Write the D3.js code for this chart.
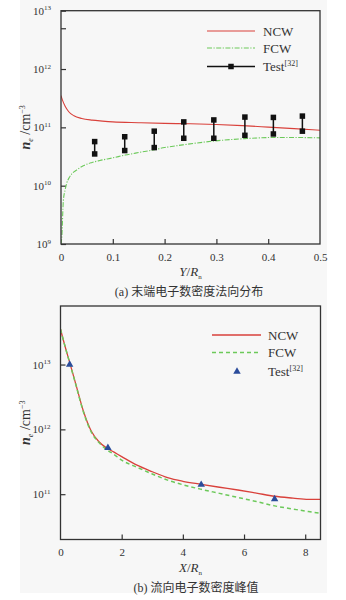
<!DOCTYPE html>
<html><head><meta charset="utf-8">
<script src="https://cdn.jsdelivr.net/npm/d3@7"></script>
<style>
body{margin:0;background:#fff}
svg{display:block}
</style>
</head><body>
<svg id="fig" width="346" height="600"></svg>
<script>
// ---- Panel (a): tail electron number density along the normal ----
const ncwA_Y = [0, 0.003, 0.008, 0.015, 0.025, 0.04, 0.06, 0.08, 0.1, 0.15, 0.2, 0.25, 0.3, 0.35, 0.4, 0.45, 0.5];
const ncwA_N = [3.5e11, 2.9e11, 2.3e11, 1.85e11, 1.58e11, 1.42e11, 1.33e11, 1.28e11, 1.24e11, 1.2e11, 1.17e11, 1.15e11, 1.12e11, 1.07e11, 1.01e11, 9.5e10, 8.9e10];
const fcwA_Y = [0, 0.0015, 0.0045, 0.008, 0.011, 0.016, 0.021, 0.03, 0.043, 0.06, 0.075, 0.1, 0.124, 0.15, 0.178, 0.2, 0.235, 0.293, 0.355, 0.41, 0.45, 0.5];
const fcwA_N = [1e9, 1.3e9, 5.5e9, 8.5e9, 1.1e10, 1.38e10, 1.6e10, 1.85e10, 2.2e10, 2.5e10, 2.7e10, 3.0e10, 3.35e10, 3.7e10, 4.1e10, 4.5e10, 5.0e10, 5.8e10, 6.4e10, 6.7e10, 6.7e10, 6.6e10];
const testA_Y = [0.065, 0.123, 0.18, 0.237, 0.295, 0.355, 0.41, 0.466];
const testA_hi = [5.7e10, 6.9e10, 8.6e10, 1.24e11, 1.34e11, 1.5e11, 1.48e11, 1.56e11];
const testA_lo = [3.5e10, 4.0e10, 4.5e10, 6.5e10, 6.5e10, 7.3e10, 7.7e10, 8.6e10];
const xTicksA = [0, 0.1, 0.2, 0.3, 0.4, 0.5];
const yTicksA = [1e9, 1e10, 1e11, 1e12, 1e13];
const yMinorA = [5e12];

// ---- Panel (b): streamwise peak electron number density ----
const ncwB_X = [0, 0.15, 0.3, 0.5, 0.75, 1.0, 1.25, 1.5, 1.75, 2.0, 2.5, 3.0, 3.5, 4.0, 4.6, 5.2, 5.8, 6.4, 7.0, 7.6, 8.1, 8.5];
const ncwB_N = [3.5e13, 1.9e13, 1.08e13, 5.0e12, 1.9e12, 9.5e11, 6.5e11, 5.2e11, 4.45e11, 3.8e11, 2.8e11, 2.22e11, 1.8e11, 1.58e11, 1.42e11, 1.28e11, 1.16e11, 1.04e11, 9.3e10, 8.7e10, 8.3e10, 8.3e10];
const fcwB_N = [3.5e13, 1.9e13, 1.06e13, 4.9e12, 1.85e12, 9.2e11, 6.3e11, 4.9e11, 4.1e11, 3.35e11, 2.6e11, 2.05e11, 1.65e11, 1.4e11, 1.19e11, 1.03e11, 8.9e10, 7.7e10, 6.6e10, 5.9e10, 5.4e10, 5.1e10];
const testB_X = [0.3, 1.55, 4.6, 7.0];
const testB_N = [1.0e13, 5.2e11, 1.4e11, 8.4e10];
const xTicksB = [0, 2, 4, 6, 8];
const yTicksB = [1e11, 1e12, 1e13];

const seriesNames = ["NCW", "FCW", "Test"];
const RED = "#d9413b", GREEN = "#6cc95a", BLUE = "#2b4c9b", AXIS = "#333";
const SERIF = '"Liberation Serif","Noto Sans CJK SC",serif';

const svg = d3.select("#fig");
svg.append("rect").attr("x", 20).attr("y", 0).attr("width", 307).attr("height", 593).attr("fill", "#f7f7f7");

function powLabel(sel, v) {
  const e = Math.round(Math.log10(v));
  sel.text(null);
  sel.append("tspan").text("10");
  sel.append("tspan").attr("font-size", 7).attr("dy", -4.5).text(e);
}

function panel(cfg) {
  const g = svg.append("g");
  const x = d3.scaleLinear().domain(cfg.xDomain).range([cfg.left, cfg.right]);
  const y = d3.scaleLog().domain(cfg.yDomain).range([cfg.bottom, cfg.top]);
  const id = "clip" + cfg.key;
  svg.append("clipPath").attr("id", id).append("rect")
    .attr("x", cfg.left).attr("y", cfg.top).attr("width", cfg.right - cfg.left).attr("height", cfg.bottom - cfg.top);

  // axes with inward ticks
  const ax = g.append("g").attr("transform", `translate(0,${cfg.bottom})`)
    .call(d3.axisBottom(x).tickValues(cfg.xTicks).tickSize(-5).tickPadding(9).tickFormat(cfg.xFmt));
  const ay = g.append("g").attr("transform", `translate(${cfg.left},0)`)
    .call(d3.axisLeft(y).tickValues(cfg.yTicks.concat(cfg.yMinor || [])).tickSize(-5).tickPadding(10).tickFormat(""));
  ay.selectAll(".tick text").filter(d => cfg.yTicks.includes(d)).each(function(d){ powLabel(d3.select(this), d); });
  [ax, ay].forEach(a => {
    a.attr("font-family", null).attr("font-size", null);
    a.select(".domain").remove();
    a.selectAll(".tick line").attr("stroke", AXIS).attr("stroke-width", 1.2);
    a.selectAll(".tick text").attr("fill", "#333").style("font-family", SERIF).style("font-size", "11px");
  });
  ax.selectAll(".tick").filter(d => d === cfg.xDomain[0] || d === cfg.xDomain[1]).select("line").remove();

  const plot = g.append("g").attr("clip-path", `url(#${id})`);
  cfg.draw(plot, x, y);

  g.append("rect").attr("x", cfg.left).attr("y", cfg.top)
    .attr("width", cfg.right - cfg.left).attr("height", cfg.bottom - cfg.top)
    .attr("fill", "none").attr("stroke", AXIS).attr("stroke-width", 1.3);

  // y title: n_e /cm^-3
  const cy = (cfg.top + cfg.bottom) / 2;
  const yt = g.append("text").attr("transform", `translate(30,${cy}) rotate(-90)`)
    .attr("text-anchor", "middle").style("font-family", SERIF).style("font-size", "14px").attr("fill", "#333");
  yt.append("tspan").attr("font-style", "italic").attr("font-weight", "bold").text("n");
  yt.append("tspan").attr("font-size", 8).attr("font-style", "italic").attr("dy", 3).text("e");
  yt.append("tspan").attr("dy", -3).text(" /cm");
  yt.append("tspan").attr("font-size", 8).attr("dy", -5).text("\u22123");

  // x title
  const xt = g.append("text").attr("x", (cfg.left + cfg.right) / 2).attr("y", cfg.bottom + 32)
    .attr("text-anchor", "middle").style("font-family", SERIF).style("font-size", "13px").attr("fill", "#333");
  xt.append("tspan").attr("font-style", "italic").text(cfg.xVar);
  xt.append("tspan").text("/");
  xt.append("tspan").attr("font-style", "italic").text("R");
  xt.append("tspan").attr("font-size", 7).attr("dy", 3).text("n");

  g.append("text").attr("x", cfg.capX).attr("y", cfg.bottom + 52).attr("text-anchor", "middle")
    .style("font-family", SERIF).style("font-size", "12px").attr("fill", "#333").text(cfg.caption);
  return { x, y, g };
}

function legendText(g, x, y, name) {
  const t = g.append("text").attr("x", x).attr("y", y + 4.5)
    .style("font-family", SERIF).style("font-size", "13px").attr("fill", "#333");
  t.append("tspan").text(name);
  if (name === "Test") t.append("tspan").attr("font-size", 8).attr("dy", -5).text("[32]");
}

// Panel (a)
const A = panel({
  key: "a", left: 61, right: 320, top: 10.7, bottom: 244,
  xDomain: [0, 0.5], yDomain: [1e9, 1e13],
  xTicks: xTicksA, yTicks: yTicksA, yMinor: yMinorA,
  xFmt: d => d === 0 ? "0" : d3.format(".1f")(d),
  xVar: "Y", caption: "(a) 末端电子数密度法向分布", capX: 189,
  draw(p, x, y) {
    const ln = (xs, ys) => d3.line().x((d, i) => x(xs[i])).y(d => y(d)).curve(d3.curveMonotoneX)(ys);
    p.append("path").attr("d", ln(ncwA_Y, ncwA_N)).attr("fill", "none").attr("stroke", RED).attr("stroke-width", 1.1);
    p.append("path").attr("d", ln(fcwA_Y, fcwA_N)).attr("fill", "none").attr("stroke", GREEN).attr("stroke-width", 1.1)
      .attr("stroke-dasharray", "5,1.5,1.2,1.5");
    const t = p.append("g");
    t.selectAll("line").data(testA_Y).join("line")
      .attr("x1", d => x(d)).attr("x2", d => x(d))
      .attr("y1", (d, i) => y(testA_hi[i])).attr("y2", (d, i) => y(testA_lo[i]))
      .attr("stroke", "#111").attr("stroke-width", 1.5);
    const pts = testA_Y.flatMap((d, i) => [[d, testA_hi[i]], [d, testA_lo[i]]]);
    t.selectAll("rect").data(pts).join("rect")
      .attr("x", d => x(d[0]) - 2.75).attr("y", d => y(d[1]) - 2.75)
      .attr("width", 5.5).attr("height", 5.5).attr("fill", "#111");
  }
});
{
  const lg = A.g.append("g");
  const ys = [31, 48, 66.5];
  lg.append("line").attr("x1", 207).attr("x2", 255).attr("y1", ys[0]).attr("y2", ys[0]).attr("stroke", RED).attr("stroke-width", 1.1);
  lg.append("line").attr("x1", 207).attr("x2", 255).attr("y1", ys[1]).attr("y2", ys[1]).attr("stroke", GREEN).attr("stroke-width", 1.1).attr("stroke-dasharray", "5,1.5,1.2,1.5");
  lg.append("line").attr("x1", 207).attr("x2", 255).attr("y1", ys[2]).attr("y2", ys[2]).attr("stroke", "#111").attr("stroke-width", 1.3);
  lg.append("rect").attr("x", 231 - 2.75).attr("y", ys[2] - 2.75).attr("width", 5.5).attr("height", 5.5).attr("fill", "#111");
  seriesNames.forEach((n, i) => legendText(lg, 263, ys[i], n));
}

// Panel (b)
const B = panel({
  key: "b", left: 60.5, right: 320.5, top: 306, bottom: 539.5,
  xDomain: [0, 8.5], yDomain: [2e10, 8e13],
  xTicks: xTicksB, yTicks: yTicksB,
  xFmt: d3.format("d"),
  xVar: "X", caption: "(b) 流向电子数密度峰值", capX: 196,
  draw(p, x, y) {
    const ln = ys => d3.line().x((d, i) => x(ncwB_X[i])).y(d => y(d)).curve(d3.curveMonotoneX)(ys);
    p.append("path").attr("d", ln(ncwB_N)).attr("fill", "none").attr("stroke", RED).attr("stroke-width", 1.3);
    p.append("path").attr("d", ln(fcwB_N)).attr("fill", "none").attr("stroke", GREEN).attr("stroke-width", 1.5)
      .attr("stroke-dasharray", "4,3");
    p.selectAll("path.tri").data(testB_X).join("path").attr("class", "tri")
      .attr("d", d3.symbol(d3.symbolTriangle, 24))
      .attr("transform", (d, i) => `translate(${x(d)},${y(testB_N[i])})`)
      .attr("fill", BLUE);
  }
});
{
  const lg = B.g.append("g");
  const ys = [335, 352.5, 371.5];
  lg.append("line").attr("x1", 212).attr("x2", 261).attr("y1", ys[0]).attr("y2", ys[0]).attr("stroke", RED).attr("stroke-width", 1.3);
  lg.append("line").attr("x1", 212).attr("x2", 261).attr("y1", ys[1]).attr("y2", ys[1]).attr("stroke", GREEN).attr("stroke-width", 1.5).attr("stroke-dasharray", "4,3");
  lg.append("path").attr("d", d3.symbol(d3.symbolTriangle, 24)).attr("transform", `translate(237,${ys[2]})`).attr("fill", BLUE);
  seriesNames.forEach((n, i) => legendText(lg, 268, ys[i], n));
}
</script>
</body></html>
